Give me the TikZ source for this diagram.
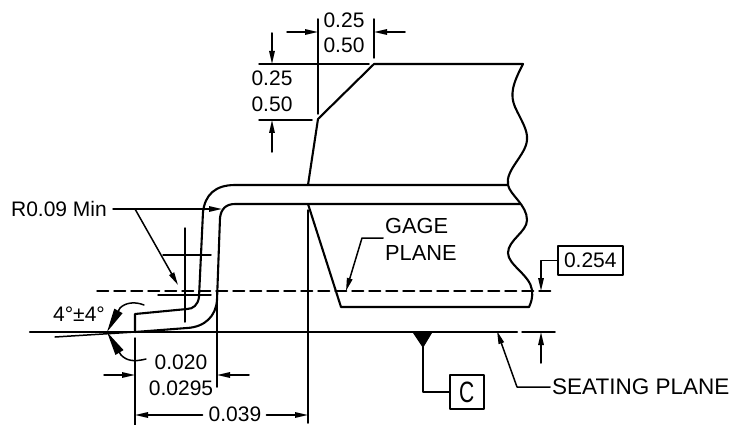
\documentclass[tikz,border=0pt]{standalone}
\usepackage{fontspec}
\setmainfont{Liberation Sans}
\usetikzlibrary{arrows.meta}

\begin{document}
\begin{tikzpicture}
		[x=1pt,y=-1pt,line cap=round,line join=round,
		%Styles
		dim line/.style={line width=1.5pt},
		body line/.style={line width=2.1pt},
		dim arrow/.style={line width=1.5pt,-{Triangle[length=13pt,width=5.5pt]}},
		angle head/.style={line width=1.5pt,-{Triangle[length=24pt,width=9pt]}},
		dim text/.style={inner sep=0pt,font=\fontsize{21}{25}\selectfont},
		plane text/.style={inner sep=0pt,font=\fontsize{21.8}{27}\selectfont},
		frame box/.style={draw,line width=1.6pt,inner sep=0pt,minimum height=29pt,font=\fontsize{21}{25}\selectfont}
		]
		\useasboundingbox (0,0) rectangle (733,425);

		%Key points
		\coordinate (chamfer top) at (374,64);
		\coordinate (chamfer low) at (318,119);
		\coordinate (heel) at (135,332);
		\coordinate (gage tip) at (346,291);
		\coordinate (seat top) at (541,332);
		\coordinate (gage right) at (541,291);
		\coordinate (angle tip) at (107,332);
		\coordinate (angle up) at (120,308);
		\coordinate (angle down) at (121,355);

		%The body and the lead
		\draw[body line] (523,64) -- (chamfer top) -- (chamfer low) -- (308,185);
		\draw[body line] (523,64) .. controls (512,85) and (510,95) .. (515,107) .. controls (521,120) and (528,130) .. (527,140) .. controls (526,155) and (505,170) .. (508,185) .. controls (510,195) and (527,205) .. (527,220) .. controls (527,232) and (508,240) .. (508,253) .. controls (508,265) and (530,275) .. (532,290) .. controls (533,297) and (531,303) .. (529,307);
		\draw[body line] (508,185) -- (235,185) .. controls (215,185) and (205,195) .. (203,212) -- (199,297) .. controls (198,305) and (193,309) .. (187,309) -- (135,314) -- (heel) -- (187,328) .. controls (205,327) and (216,316) .. (217,300) -- (220,218) .. controls (221,209) and (226,204) .. (235,204) -- (520,204);
		\draw[body line] (308,204) -- (341,307) -- (529,307);
		\draw[dim line] (55,337) -- (heel);

		%Planes
		\draw[dim line,dash pattern=on 11.5pt off 5.5pt] (97,291) -- (555,291);
		\draw[body line] (30,332) -- (517,332);
		\draw[dim line] (522,332) -- (555,332);

		%Center lines of the bend
		\draw[dim line] (185,228) -- (185,322);
		\draw[dim line] (163,255) -- (211,255);
		\draw[dim line] (158,295) -- (211,295);

		%R0.09 leader
		\node[dim text,anchor=east] (radius label) at (107,209) {R0.09 Min};
		\coordinate (radius fork) at (135,209);
		\draw[dim arrow] (113,209) -- (radius fork) -- (222,209);
		\draw[dim arrow] (radius fork) -- (178,285);

		%Angle
		\node[dim text] (angle label) at (79,314) {4°±4°};
		\draw[dim line] (144,305) .. controls (134,301) and (125,303) .. (angle up);
		\draw[angle head] (angle up) -- (angle tip);
		\draw[dim line] (146,359) .. controls (134,362) and (127,361) .. (angle down);
		\draw[angle head] (angle down) -- (angle tip);

		%Top dimensions
		\node[dim text] (top run a) at (344,20) {0.25};
		\node[dim text] (top run b) at (344,45) {0.50};
		\node[dim text] (top rise a) at (272,78) {0.25};
		\node[dim text] (top rise b) at (272,104) {0.50};
		\draw[dim line] (318,19) -- (318,114);
		\draw[dim line] (374,19) -- (374,58);
		\draw[dim line] (259,64) -- (369,64);
		\draw[dim line] (259,120) -- (312,120);
		\draw[dim arrow] (287,32) -- (318,32);
		\draw[dim arrow] (405,32) -- (374,32);
		\draw[dim arrow] (272,33) -- (272,64);
		\draw[dim arrow] (272,152) -- (272,120);

		%Lower dimensions
		\node[dim text] (foot min) at (181,362) {0.020};
		\node[dim text] (foot max) at (181,388) {0.0295};
		\node[dim text] (lead span) at (235,414) {0.039};
		\draw[dim line] (135,338) -- (135,425);
		\draw[dim line] (217,300) -- (217,387);
		\draw[dim line] (308,210) -- (308,423);
		\draw[dim arrow] (104,375) -- (135,375);
		\draw[dim arrow] (249,375) -- (217,375);
		\draw[dim arrow] (lead span.west) ++(-6,1) -- (135,415);
		\draw[dim arrow] (lead span.east) ++(5,1) -- (308,415);

		%Gage plane
		\node[plane text,align=left,anchor=west] (gage label) at (385,239) {GAGE\\PLANE};
		\draw[dim arrow] (383,238) -- (362,238) -- (gage tip);

		%0.254 box
		\node[frame box,minimum width=65pt,anchor=west] (gauge box) at (557,260.5) {0.254};
		\draw[dim arrow] (gauge box.west) -- (541,260.5) -- (gage right);
		\draw[dim arrow] (541,363) -- (seat top);

		%Datum C
		\node[frame box,minimum width=34pt,minimum height=34pt,anchor=west] (datum box) at (449,392) {\scalebox{1}[1.4]{C}};
		\draw[fill,line width=1pt] (413,332) -- (432,332) -- (423,347) -- cycle;
		\draw[dim line] (423,347) -- (423,392) -- (datum box.west);

		%Seating plane
		\node[plane text,font=\fontsize{22.5}{27}\selectfont,anchor=west] (seat label) at (552,387) {SEATING PLANE};
		\draw[dim arrow] (seat label.west) ++(-2,0) -- (517,387) -- (497,331);
\end{tikzpicture}
\end{document}
